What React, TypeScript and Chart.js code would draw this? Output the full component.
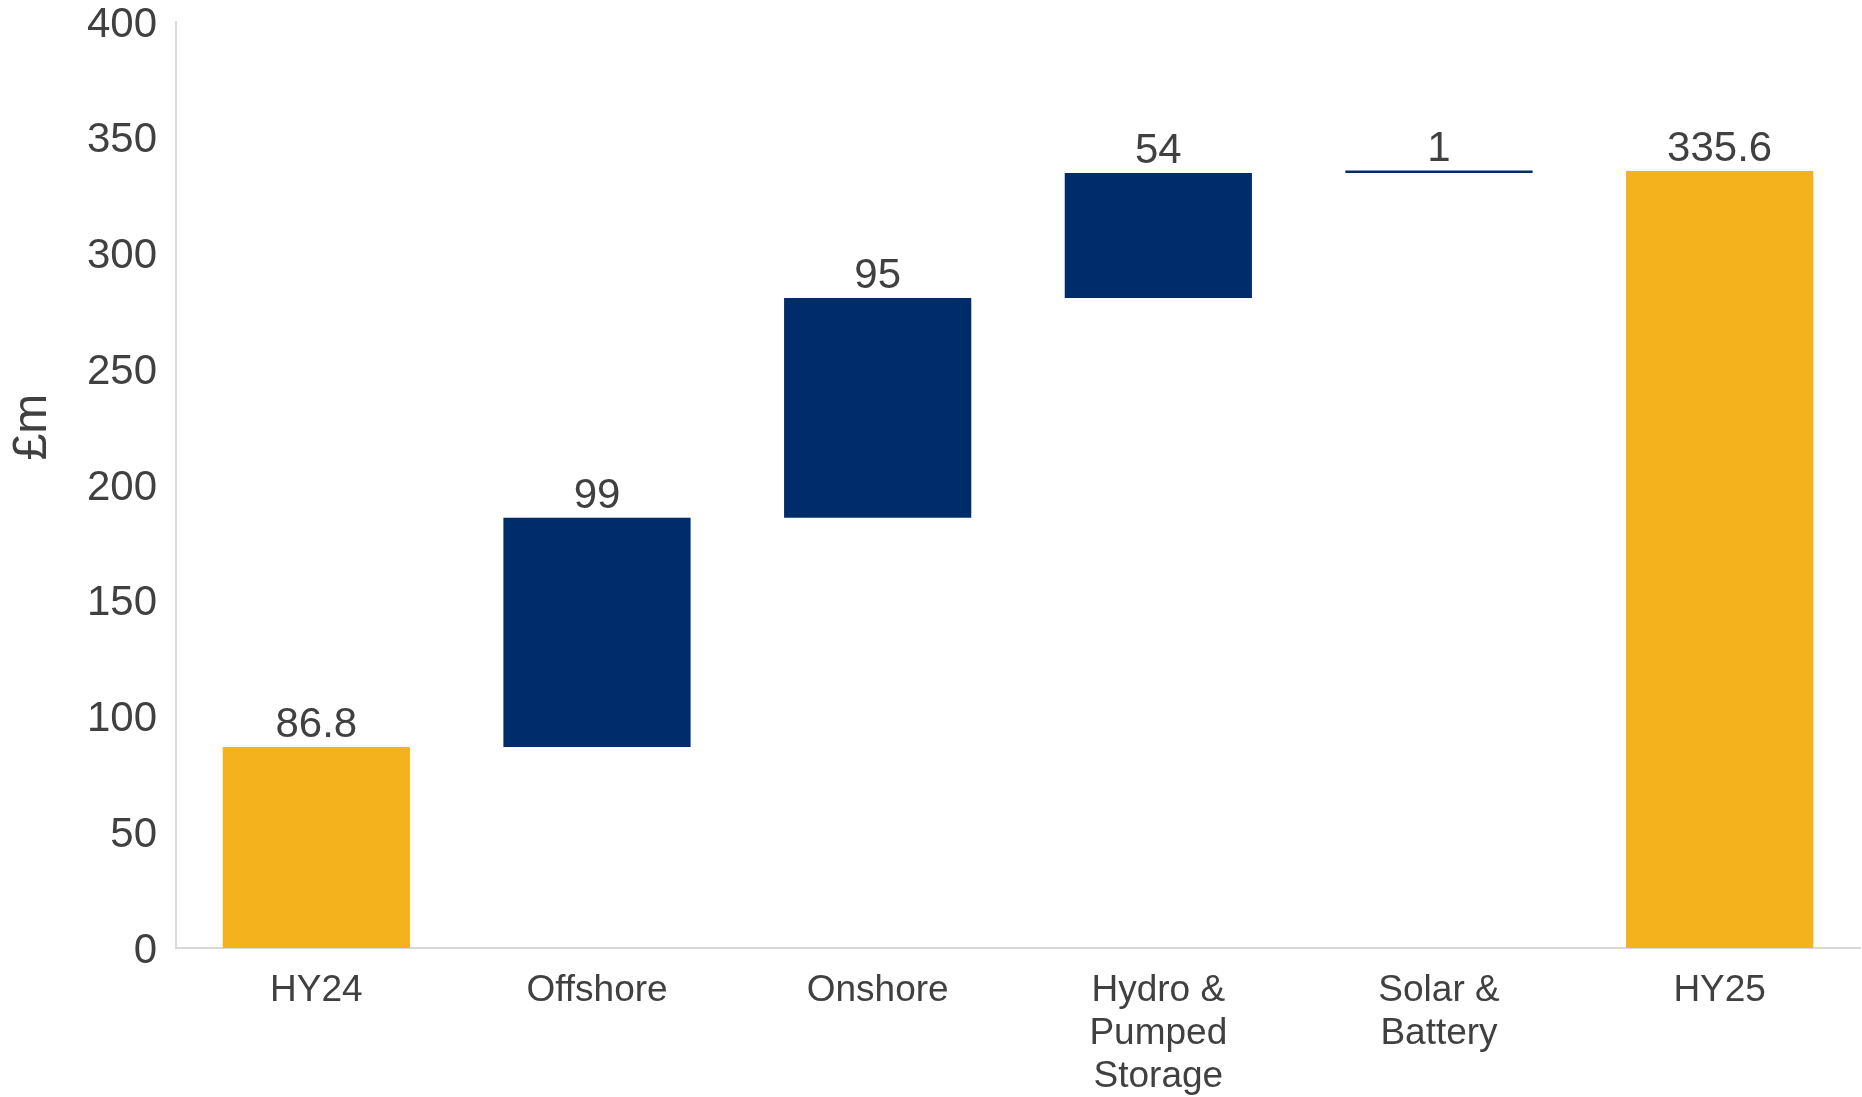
import React, { useEffect, useRef } from "react";
import { Chart, registerables } from "chart.js";

Chart.register(...registerables);

const categories: string[][] = [
  ["HY24"],
  ["Offshore"],
  ["Onshore"],
  ["Hydro &", "Pumped", "Storage"],
  ["Solar &", "Battery"],
  ["HY25"],
];
const values: number[] = [86.8, 99, 95, 54, 1, 335.6];
const valueLabels: string[] = ["86.8", "99", "95", "54", "1", "335.6"];
const isTotal: boolean[] = [true, false, false, false, false, true];
const yTicks: number[] = [0, 50, 100, 150, 200, 250, 300, 350, 400];
const yTitle = "£m";

const YELLOW = "#F4B21D";
const NAVY = "#002C6C";
const TEXT = "#404040";
const FONT = "'Liberation Sans', Arial, sans-serif";

export default function App() {
  const ref = useRef<HTMLCanvasElement | null>(null);

  useEffect(() => {
    if (!ref.current) return;
    let running = 0;
    const floating: [number, number][] = values.map((v, i) => {
      if (isTotal[i]) {
        running = v;
        return [0, v];
      }
      const start = running;
      running = running + v;
      return [start, running];
    });
    const colors = isTotal.map((t) => (t ? YELLOW : NAVY));

    const labelPlugin = {
      id: "valueLabels",
      afterDatasetsDraw(chart: any) {
        const ctx = chart.ctx;
        const meta = chart.getDatasetMeta(0);
        ctx.save();
        ctx.font = `42px ${FONT}`;
        ctx.fillStyle = TEXT;
        ctx.textAlign = "center";
        ctx.textBaseline = "alphabetic";
        meta.data.forEach((bar: any, i: number) => {
          const top = Math.min(bar.y, bar.base);
          ctx.fillText(valueLabels[i], bar.x, top - 10);
        });
        // y-axis title
        ctx.translate(33, 427);
        ctx.rotate(-Math.PI / 2);
        ctx.font = `48px ${FONT}`;
        ctx.textBaseline = "middle";
        ctx.fillText(yTitle, 0, 0);
        ctx.restore();
      },
    };

    const chart = new Chart(ref.current, {
      type: "bar",
      data: {
        labels: categories,
        datasets: [
          {
            data: floating as any,
            backgroundColor: colors,
            borderWidth: 0,
            barPercentage: 0.667,
            categoryPercentage: 1,
          },
        ],
      },
      options: {
        responsive: false,
        animation: false,
        layout: { padding: { top: 22, right: 2, left: 0, bottom: 0 } },
        plugins: {
          legend: { display: false },
          tooltip: { enabled: false },
        },
        scales: {
          x: {
            grid: { display: false, drawTicks: false },
            border: { display: true, color: "#D9D9D9", width: 2 },
            ticks: {
              color: TEXT,
              font: { family: FONT, size: 37, lineHeight: 1.17 },
              padding: 21,
              maxRotation: 0,
              autoSkip: false,
            },
            afterFit(scale: any) {
              scale.height = 149;
              scale.paddingLeft = 0;
              scale.paddingRight = 0;
            },
          },
          y: {
            min: 0,
            max: 400,
            afterBuildTicks(scale: any) {
              scale.ticks = yTicks.map((v) => ({ value: v }));
            },
            grid: { display: false, drawTicks: false },
            border: { display: true, color: "#D9D9D9", width: 2 },
            ticks: {
              color: TEXT,
              font: { family: FONT, size: 42, lineHeight: 1 },
              padding: 19,
              labelOffset: 3,
            },
            title: { display: false },
            afterFit(scale: any) {
              scale.width = 176;
              scale.paddingTop = 0;
              scale.paddingBottom = 0;
            },
          },
        },
      },
      plugins: [labelPlugin],
    });
    return () => chart.destroy();
  }, []);

  return (
    <div style={{ position: "absolute", left: 0, top: 0, width: 1862, height: 1097, background: "#fff" }}>
      <canvas ref={ref} width={1862} height={1097} style={{ display: "block" }} />
    </div>
  );
}
